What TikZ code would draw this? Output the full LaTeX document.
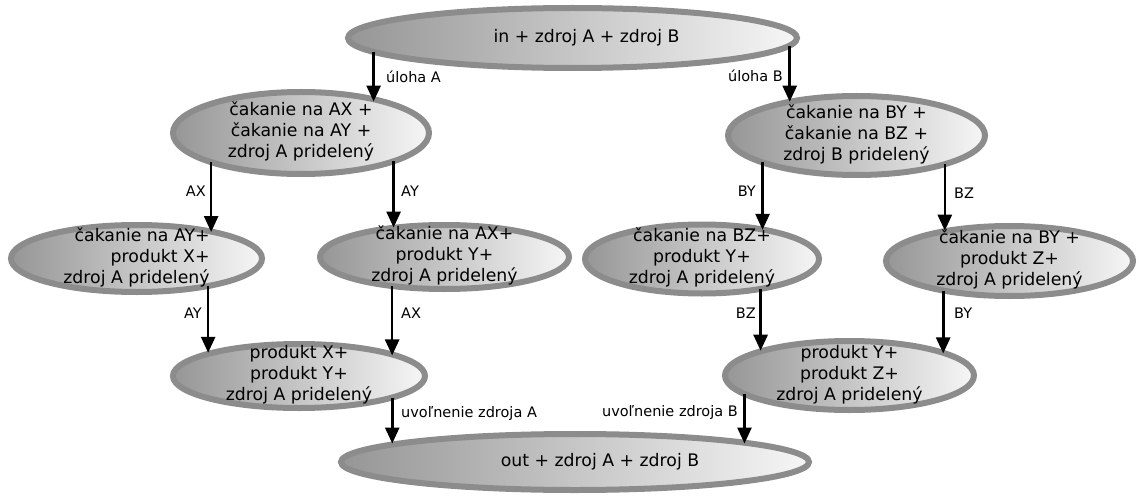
\documentclass[tikz,border=0pt]{standalone}
\usepackage{fontspec}
\setmainfont{DejaVu Sans}
\usetikzlibrary{shapes.geometric,arrows.meta}
\definecolor{ring}{RGB}{140,140,140}
\definecolor{shl}{RGB}{150,150,150}
\definecolor{shr}{RGB}{246,246,246}
\newcommand{\elltext}[2][c]{\raisebox{-8pt}{\smash{\begin{tabular}{@{}#1@{}}#2\end{tabular}}}}
\tikzset{
  ell/.style={ellipse, draw=ring, line width=6pt, left color=shl, right color=shr,
    inner sep=0pt, outer sep=0pt, font=\fontsize{17.3}{21}\selectfont},
  arr/.style={line width=2.6pt, -{Triangle[length=16pt,width=14pt]}},
  lbl/.style={font=\fontsize{14.5}{17}\selectfont, inner sep=0pt}
}
\begin{document}
\begin{tikzpicture}[x=1pt,y=-1pt]
\useasboundingbox (0,0) rectangle (1139,497);
\node[ell, minimum width=449pt, minimum height=60pt] (top) at (572.5,38) {\hspace*{28pt}in + zdroj A + zdroj B};
\node[ell, minimum width=256pt, minimum height=82pt] (mL) at (301,133) {\elltext{čakanie na AX +\\čakanie na AY +\\zdroj A pridelený}};
\node[ell, minimum width=257pt, minimum height=79pt] (mR) at (856.5,135.5) {\elltext{čakanie na BY +\\čakanie na BZ +\\zdroj B pridelený}};
\node[ell, minimum width=251pt, minimum height=67pt] (r3a) at (136.5,258.5) {\elltext[r]{čakanie na AY+\\produkt X+\\zdroj A pridelený}};
\node[ell, minimum width=249pt, minimum height=64pt] (r3b) at (444.5,257) {\elltext{čakanie na AX+\\produkt Y+\\zdroj A pridelený}};
\node[ell, minimum width=234pt, minimum height=69pt] (r3c) at (702,259) {\elltext{čakanie na BZ+\\produkt Y+\\zdroj A pridelený}};
\node[ell, minimum width=247pt, minimum height=70pt] (r3d) at (1009.5,261) {\elltext{čakanie na BY +\\produkt Z+\\zdroj A pridelený}};
\node[ell, minimum width=252pt, minimum height=64pt] (r4a) at (299,376) {\elltext{produkt X+\\produkt Y+\\zdroj A pridelený}};
\node[ell, minimum width=249pt, minimum height=69pt] (r4b) at (849.5,375.5) {\elltext{produkt Y+\\produkt Z+\\zdroj A pridelený}};
\node[ell, minimum width=468pt, minimum height=56pt] (bot) at (575,462) {\hspace*{50pt}out + zdroj A + zdroj B};

\draw[arr] (top.184.7) -- (top.184.7 |- mL.21.8);
\draw[arr] (top.358.04) -- (top.358.04 |- mR.153.1);
\draw[arr] (mL.198.7) -- (mL.198.7 |- r3a.19.15);
\draw[arr] (mL.343.15) -- (mL.343.15 |- r3b.149.9);
\draw[arr] (mR.196.2) -- (mR.196.2 |- r3c.25.8);
\draw[arr] (mR.342.4) -- (mR.342.4 |- r3d.154.7);
\draw[arr] (r3a.339.7) -- (r3a.339.7 |- r4a.165.7);
\draw[arr] (r3b.209.5) -- (r3b.209.5 |- r4a.12.8);
\draw[arr] (r3c.333.7) -- (r3c.333.7 |- r4b.164.3);
\draw[arr] (r3d.204.8) -- (r3d.204.8 |- r4b.13.0);
\draw[arr] (r4a.347.2) -- (r4a.347.2 |- bot.174.5);
\draw[arr] (r4b.190.2) -- (r4b.190.2 |- bot.6.5);

\node[lbl, anchor=west] (lA) at (386,77) {úloha A};
\node[lbl, anchor=east] (lB) at (783,76) {úloha B};
\node[lbl, anchor=east] (lAX) at (206,191) {AX};
\node[lbl, anchor=west] (lAY) at (401,191) {AY};
\node[lbl, anchor=east] (lBY) at (756,191) {BY};
\node[lbl, anchor=west] (lBZ) at (954,193) {BZ};
\node[lbl, anchor=east] (lAY2) at (202,313) {AY};
\node[lbl, anchor=west] (lAX2) at (401,313) {AX};
\node[lbl, anchor=east] (lBZ2) at (756,313) {BZ};
\node[lbl, anchor=west] (lBY2) at (954,313) {BY};
\node[lbl, anchor=west] (luA) at (401,413) {uvoľnenie zdroja A};
\node[lbl, anchor=east] (luB) at (738,412) {uvoľnenie zdroja B};
\end{tikzpicture}
\end{document}
